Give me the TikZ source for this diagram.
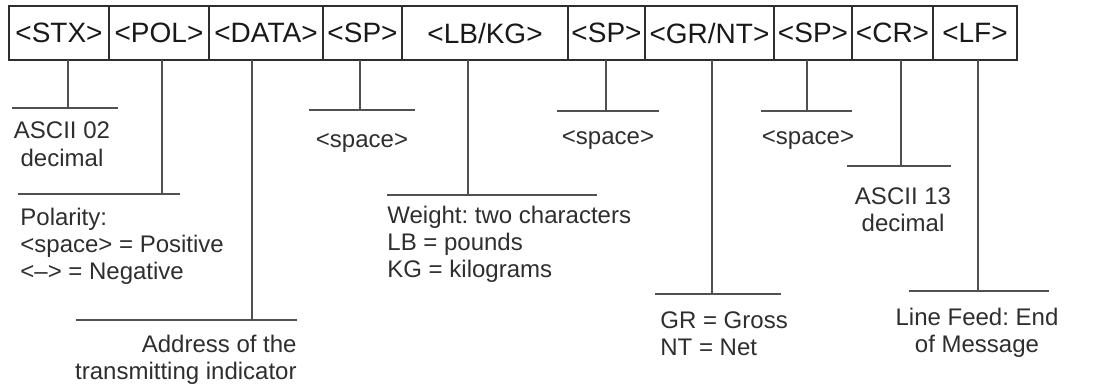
\documentclass[tikz,border=0pt]{standalone}
\usepackage{fontspec}
\setmainfont{Liberation Sans}
\usetikzlibrary{positioning}
\frenchspacing
\definecolor{inkgray}{HTML}{2E2E2E}
\definecolor{linegray}{HTML}{505050}
\tikzset{
  fieldbox/.style={draw=inkgray, line width=0.6pt, minimum height=27pt, inner sep=0pt, outer sep=0pt, font=\fontsize{14}{16}\selectfont, text=black!90},
  lead/.style={draw=linegray, line width=0.6pt},
  rule/.style={draw=linegray, line width=0.6pt},
  note/.style={inner sep=0pt, font=\fontsize{12}{13.5}\selectfont, text=inkgray}
}

\begin{document}
\begin{tikzpicture}[x=0.5pt,y=-0.5pt]
\useasboundingbox (0,0) rectangle (1118,385);
% message fields
\node[fieldbox,minimum width=50pt] (stx) at (59,33) {<STX>};
\node[fieldbox,minimum width=50pt,right=0pt of stx] (pol) {<POL>};
\node[fieldbox,minimum width=57pt,right=0pt of pol] (data) {<DATA>};
\node[fieldbox,minimum width=39.5pt,right=0pt of data] (spa) {<SP>};
\node[fieldbox,minimum width=83pt,right=0pt of spa] (lbkg) {<LB/KG>};
\node[fieldbox,minimum width=38.5pt,right=0pt of lbkg] (spb) {<SP>};
\node[fieldbox,minimum width=64.5pt,right=0pt of spb] (grnt) {<GR/NT>};
\node[fieldbox,minimum width=39pt,right=0pt of grnt] (spc) {<SP>};
\node[fieldbox,minimum width=40.5pt,right=0pt of spc] (cr) {<CR>};
\node[fieldbox,minimum width=42pt,right=0pt of cr] (lf) {<LF>};
% tap points on the rules
\coordinate (stxt) at (68,108);
\coordinate (polt) at (162,194);
\coordinate (datat) at (252,320);
\coordinate (spat) at (360,110);
\coordinate (lbkgt) at (468,195);
\coordinate (spbt) at (606,111);
\coordinate (grntt) at (712,294);
\coordinate (spct) at (807,111);
\coordinate (crt) at (901,166);
\coordinate (lft) at (978,291);
% leads
\foreach \f in {stx,pol,data,spa,lbkg,spb,grnt,spc,cr,lf}
  \draw[lead] (\f.south -| \f t) -- (\f t);
% rules
\draw[rule] (12,108) -- (118,108);
\draw[rule] (18,194) -- (180,194);
\draw[rule] (76,320) -- (297,320);
\draw[rule] (309,110) -- (415,110);
\draw[rule] (387,195) -- (597,195);
\draw[rule] (557,111) -- (659,111);
\draw[rule] (655,294) -- (781,294);
\draw[rule] (761,111) -- (852,111);
\draw[rule] (847,166) -- (951,166);
\draw[rule] (909,291) -- (1049,291);
% notes (base = last line)
\node[note,anchor=base,align=center] (stxn) at (62,166) {ASCII 02\\decimal};
\node[note,anchor=base west,align=left] (poln) at (20,279) {Polarity:\\<space> = Positive\\<\textendash> = Negative};
\node[note,anchor=base east,align=right] (datan) at (297,379) {Address of the\\transmitting indicator};
\node[note,anchor=base] (span) at (362,148) {<space>};
\node[note,anchor=base west,align=left] (lbkgn) at (387,277) {Weight: two characters\\LB = pounds\\KG = kilograms};
\node[note,anchor=base] (spbn) at (608,144) {<space>};
\node[note,anchor=base west,align=left] (grntn) at (660,355) {GR = Gross\\NT = Net};
\node[note,anchor=base] (spcn) at (808,144) {<space>};
\node[note,anchor=base,align=center] (crn) at (903,231) {ASCII 13\\decimal};
\node[note,anchor=base,align=center] (lfn) at (977,352) {Line Feed: End\\of Message};
\end{tikzpicture}
\end{document}
